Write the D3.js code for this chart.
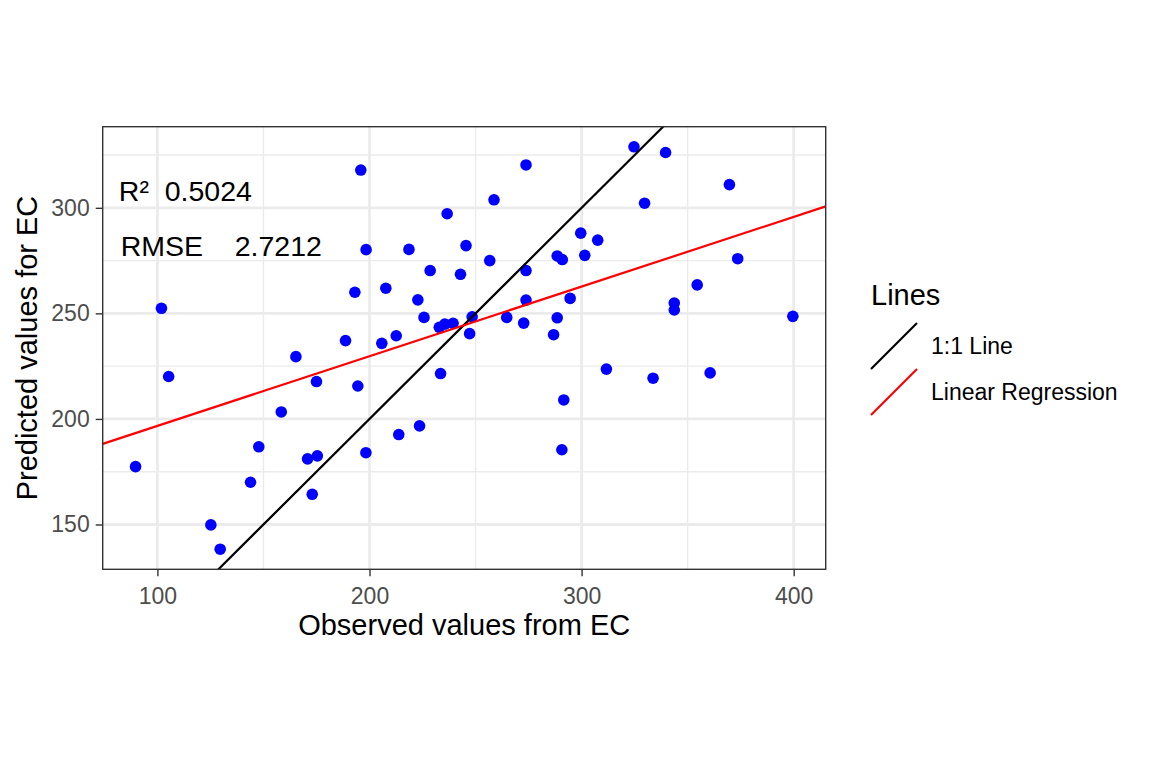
<!DOCTYPE html>
<html>
<head>
<meta charset="utf-8">
<script src="https://cdn.jsdelivr.net/npm/d3@7"></script>
<style>
  body { margin: 0; background: #fff; }
  svg { font-family: "Liberation Sans", Arial, sans-serif; }
</style>
</head>
<body>
<svg id="chart" width="1152" height="768"></svg>
<script>
// Observed / predicted pairs
const observed = [195.9, 236.6, 245.5, 198.4, 218.6, 228.6, 242.9, 193.1, 207.7, 222.8,
    101.9, 225.7, 232.9, 235.5, 239.4, 188.7, 205.8, 212.6, 165.3, 105.3,
    175.0, 194.5, 233.5, 158.4, 89.7, 147.8, 170.8, 175.4, 198.3, 213.8,
    223.6, 143.9, 173.0, 125.2, 129.6, 324.7, 339.6, 273.8, 369.7, 329.7,
    258.7, 299.6, 307.6, 288.5, 290.9, 301.5, 256.7, 273.8, 373.6, 354.5,
    273.8, 294.6, 343.7, 343.7, 248.4, 264.7, 272.7, 288.5, 399.6, 247.2,
    286.8, 311.7, 333.7, 360.6, 291.6, 290.7];
const predicted = [317.9, 297.2, 282.1, 280.2, 280.3, 270.3, 268.5, 260.0, 261.9, 256.4,
    252.4, 248.1, 243.4, 244.9, 245.3, 237.1, 235.8, 239.4, 229.5, 220.1,
    217.7, 215.6, 221.5, 203.3, 177.4, 186.8, 181.1, 182.5, 184.0, 192.6,
    196.7, 170.0, 164.3, 149.8, 138.3, 328.9, 326.2, 320.3, 311.0, 302.2,
    303.8, 288.0, 284.7, 277.2, 275.5, 277.5, 275.0, 270.3, 275.9, 263.5,
    256.3, 257.1, 254.9, 251.6, 248.4, 248.1, 245.4, 247.9, 248.6, 240.4,
    239.9, 223.6, 219.3, 221.8, 209.0, 185.4];

// Regression line as drawn in the reference
const regIntercept = 163.7;
const regSlope = 0.330;

const xTicks = [100, 200, 300, 400];
const yTicks = [150, 200, 250, 300];
const xMinor = [150, 250, 350];
const yMinor = [175, 225, 275, 325];

const legendTitle = 'Lines';
const legendLabels = ['1:1 Line', 'Linear Regression'];
const legendColors = ['#000000', '#ff0000'];

const statLabels = ['R\u00b2  0.5024', 'RMSE    2.7212'];
const statX = [81.8, 82.7];
const statY = [303.2, 277.0];

// Layout
const panel = { left: 102.7, top: 126.7, right: 825.7, bottom: 569.3 };

const svg = d3.select('#chart');

// Scales with ggplot-like 5% expansion
const xExt = d3.extent(observed);
const yExt = d3.extent(predicted);
const xPad = (xExt[1] - xExt[0]) * 0.05;
const yPad = (yExt[1] - yExt[0]) * 0.05;
const x = d3.scaleLinear().domain([xExt[0] - xPad, xExt[1] + xPad]).range([panel.left, panel.right]);
const y = d3.scaleLinear().domain([yExt[0] - yPad, yExt[1] + yPad]).range([panel.bottom, panel.top]);

svg.append('defs').append('clipPath').attr('id', 'clip')
    .append('rect')
    .attr('x', panel.left).attr('y', panel.top)
    .attr('width', panel.right - panel.left).attr('height', panel.bottom - panel.top);

// Grid
const grid = svg.append('g');
grid.selectAll('.xminor').data(xMinor).enter().append('line')
    .attr('x1', d => x(d)).attr('x2', d => x(d))
    .attr('y1', panel.top).attr('y2', panel.bottom)
    .attr('stroke', '#ebebeb').attr('stroke-width', 1.4);
grid.selectAll('.yminor').data(yMinor).enter().append('line')
    .attr('y1', d => y(d)).attr('y2', d => y(d))
    .attr('x1', panel.left).attr('x2', panel.right)
    .attr('stroke', '#ebebeb').attr('stroke-width', 1.4);
grid.selectAll('.xmajor').data(xTicks).enter().append('line')
    .attr('x1', d => x(d)).attr('x2', d => x(d))
    .attr('y1', panel.top).attr('y2', panel.bottom)
    .attr('stroke', '#ebebeb').attr('stroke-width', 2.8);
grid.selectAll('.ymajor').data(yTicks).enter().append('line')
    .attr('y1', d => y(d)).attr('y2', d => y(d))
    .attr('x1', panel.left).attr('x2', panel.right)
    .attr('stroke', '#ebebeb').attr('stroke-width', 2.8);

// Points
const plot = svg.append('g').attr('clip-path', 'url(#clip)');
plot.selectAll('circle').data(observed).enter().append('circle')
    .attr('cx', d => x(d))
    .attr('cy', (d, i) => y(predicted[i]))
    .attr('r', 5.8)
    .attr('fill', '#0000ff');

// 1:1 line and regression line
const xd = x.domain();
const lo = Math.min(xd[0], y.domain()[0]);
const hi = Math.max(xd[1], y.domain()[1]);
plot.append('line')
    .attr('x1', x(lo)).attr('y1', y(lo))
    .attr('x2', x(hi)).attr('y2', y(hi))
    .attr('stroke', '#000').attr('stroke-width', 2.2);
plot.append('line')
    .attr('x1', x(xd[0])).attr('y1', y(regIntercept + regSlope * xd[0]))
    .attr('x2', x(xd[1])).attr('y2', y(regIntercept + regSlope * xd[1]))
    .attr('stroke', '#ff0000').attr('stroke-width', 2.2);

// Stats annotation
svg.selectAll('.stat').data(statLabels).enter().append('text')
    .attr('x', (d, i) => x(statX[i]))
    .attr('y', (d, i) => y(statY[i]))
    .attr('font-size', 28.5)
    .attr('fill', '#000')
    .style('white-space', 'pre')
    .text(d => d);

// Panel border
svg.append('rect')
    .attr('x', panel.left).attr('y', panel.top)
    .attr('width', panel.right - panel.left).attr('height', panel.bottom - panel.top)
    .attr('fill', 'none').attr('stroke', '#333333').attr('stroke-width', 1.4);

// Axes
const xAxis = svg.append('g').attr('transform', `translate(0,${panel.bottom})`)
    .call(d3.axisBottom(x).tickValues(xTicks).tickSize(7).tickPadding(6).tickSizeOuter(0));
const yAxis = svg.append('g').attr('transform', `translate(${panel.left},0)`)
    .call(d3.axisLeft(y).tickValues(yTicks).tickSize(7).tickPadding(6).tickSizeOuter(0));
[xAxis, yAxis].forEach(a => {
    a.select('.domain').remove();
    a.selectAll('.tick line').attr('stroke', '#333333').attr('stroke-width', 1.4);
    a.selectAll('.tick text').attr('fill', '#4d4d4d').attr('font-size', 23)
        .attr('font-family', '"Liberation Sans", Arial, sans-serif');
});
xAxis.selectAll('.tick text').attr('dy', '0.95em');

// Axis titles
svg.append('text')
    .attr('x', (panel.left + panel.right) / 2).attr('y', 635)
    .attr('text-anchor', 'middle').attr('font-size', 29)
    .text('Observed values from EC');
svg.append('text')
    .attr('transform', `translate(36.5,${(panel.top + panel.bottom) / 2}) rotate(-90)`)
    .attr('text-anchor', 'middle').attr('font-size', 29)
    .text('Predicted values for EC');

// Legend
const legend = svg.append('g').attr('transform', 'translate(871,323)');
legend.append('text').attr('x', 0).attr('y', -18).attr('font-size', 29).text(legendTitle);
const key = 46;
const items = legend.selectAll('.item').data(legendLabels).enter().append('g')
    .attr('transform', (d, i) => `translate(0,${i * key})`);
items.append('line')
    .attr('x1', 0).attr('y1', key).attr('x2', key).attr('y2', 0)
    .attr('stroke', (d, i) => legendColors[i]).attr('stroke-width', 2.2);
items.append('text')
    .attr('x', key + 14).attr('y', key / 2 + 8.3)
    .attr('font-size', 23).text(d => d);
</script>
</body>
</html>
